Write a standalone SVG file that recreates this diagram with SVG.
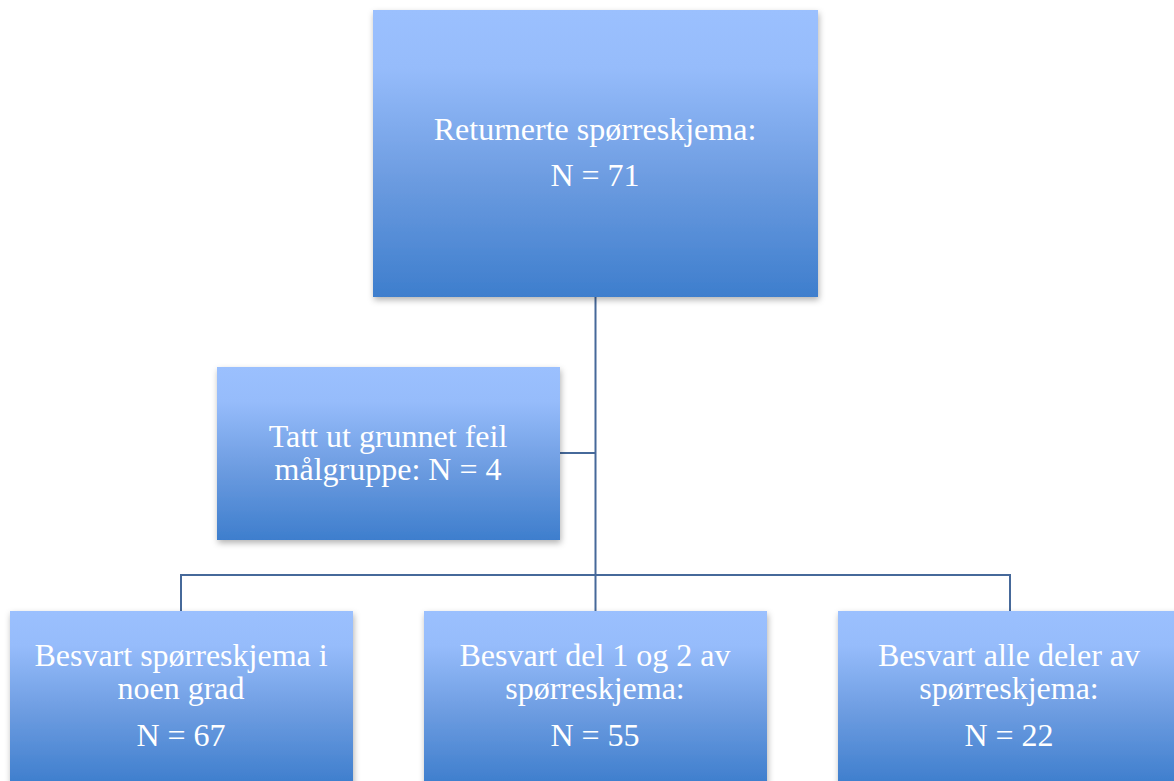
<svg xmlns="http://www.w3.org/2000/svg" width="1174" height="781" viewBox="0 0 1174 781">
  <defs>
    <linearGradient id="boxGrad" x1="0" y1="0" x2="0" y2="1">
      <stop offset="0" stop-color="#9bc0fe"/>
      <stop offset="0.2" stop-color="#96bcfb"/>
      <stop offset="0.6" stop-color="#6b9be0"/>
      <stop offset="1" stop-color="#3e7ecd"/>
    </linearGradient>
    <filter id="shadow" x="-10%" y="-10%" width="120%" height="125%">
      <feDropShadow dx="1" dy="3" stdDeviation="3" flood-color="#000" flood-opacity="0.3"/>
    </filter>
  </defs>
  <style>
    .box { fill: url(#boxGrad); filter: url(#shadow); }
    .lbl { font-family: "Liberation Serif", "Times New Roman", serif; font-size: 32px; fill: #ffffff; text-anchor: middle; }
    .conn { stroke: #46699a; stroke-width: 2; fill: none; }
  </style>
  <rect width="1174" height="781" fill="#ffffff"/>
  <g id="connectors">
    <line class="conn" x1="595.5" y1="297" x2="595.5" y2="611"/>
    <line class="conn" x1="560" y1="453" x2="595.5" y2="453"/>
    <polyline class="conn" points="181,611 181,575 1010,575 1010,611"/>
  </g>
  <g id="node-returnerte">
    <rect class="box" x="373" y="10" width="445" height="287"/>
    <text class="lbl" x="595" y="140">Returnerte spørreskjema:</text>
    <text class="lbl" x="595" y="186">N = 71</text>
  </g>
  <g id="node-tatt-ut">
    <rect class="box" x="217" y="367" width="343" height="173"/>
    <text class="lbl" x="388" y="447">Tatt ut grunnet feil</text>
    <text class="lbl" x="388" y="480">målgruppe: N = 4</text>
  </g>
  <g id="node-noen-grad">
    <rect class="box" x="10" y="611" width="343" height="173"/>
    <text class="lbl" x="181" y="666">Besvart spørreskjema i</text>
    <text class="lbl" x="181" y="699">noen grad</text>
    <text class="lbl" x="181" y="746">N = 67</text>
  </g>
  <g id="node-del-1-2">
    <rect class="box" x="424" y="611" width="343" height="173"/>
    <text class="lbl" x="595" y="666">Besvart del 1 og 2 av</text>
    <text class="lbl" x="595" y="699">spørreskjema:</text>
    <text class="lbl" x="595" y="746">N = 55</text>
  </g>
  <g id="node-alle-deler">
    <rect class="box" x="838" y="611" width="343" height="173"/>
    <text class="lbl" x="1009" y="666">Besvart alle deler av</text>
    <text class="lbl" x="1009" y="699">spørreskjema:</text>
    <text class="lbl" x="1009" y="746">N = 22</text>
  </g>
</svg>
